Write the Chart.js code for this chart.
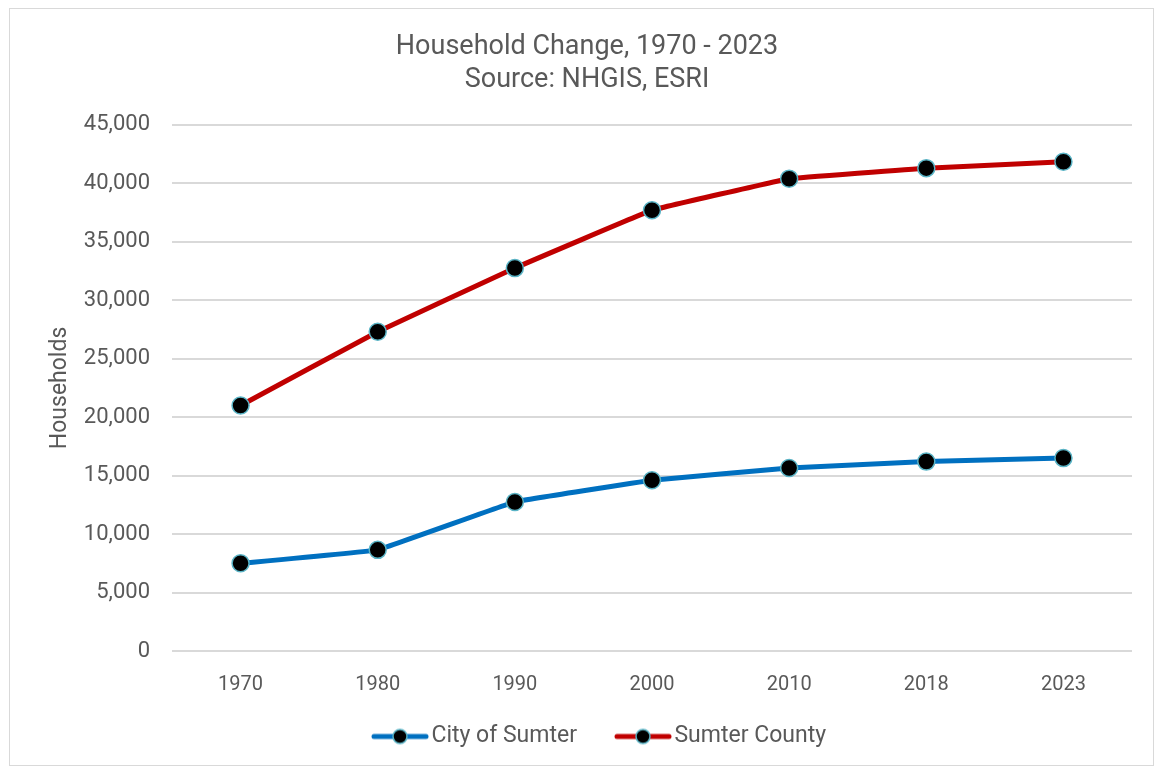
<!DOCTYPE html>
<html>
<head>
<meta charset="utf-8">
<script src="https://cdn.jsdelivr.net/npm/chart.js"></script>
<style>
  html, body { margin: 0; padding: 0; background: #fff; }
  #wrap { width: 1162px; height: 769px; }
</style>
</head>
<body>
<div id="wrap"><canvas id="chart" width="1162" height="769"></canvas></div>
<script>
// chart data
const years = ['1970', '1980', '1990', '2000', '2010', '2018', '2023'];
const citySumter = [7500, 8650, 12750, 14600, 15650, 16200, 16500];
const sumterCounty = [21000, 27300, 32750, 37700, 40400, 41300, 41850];
const yTicks = [0, 5000, 10000, 15000, 20000, 25000, 30000, 35000, 40000, 45000];

const textColor = '#595959';
const fontFamily = 'Roboto, "DejaVu Sans Condensed", sans-serif';

// legend icon: line with a marker, drawn at the right end of a wider canvas
// (the empty left part gives the gap between legend items)
function legendIcon(color) {
  const c = document.createElement('canvas');
  c.width = 90; c.height = 20;
  const ctx = c.getContext('2d');
  const x0 = 32;
  ctx.strokeStyle = color;
  ctx.lineWidth = 5;
  ctx.lineCap = 'round';
  ctx.beginPath();
  ctx.moveTo(x0 + 3, 10);
  ctx.lineTo(x0 + 55, 10);
  ctx.stroke();
  ctx.beginPath();
  ctx.arc(x0 + 29, 10, 7, 0, Math.PI * 2);
  ctx.fillStyle = '#000';
  ctx.fill();
  ctx.lineWidth = 1.5;
  ctx.strokeStyle = '#5ab4c6';
  ctx.stroke();
  return c;
}

// outer frame around the figure
const framePlugin = {
  id: 'frame',
  afterDraw(chart) {
    const ctx = chart.ctx;
    ctx.save();
    ctx.strokeStyle = '#d9d9d9';
    ctx.lineWidth = 1;
    ctx.strokeRect(9.5, 8.5, chart.width - 18, chart.height - 12);
    ctx.restore();
  }
};

const ctx = document.getElementById('chart').getContext('2d');
new Chart(ctx, {
  type: 'line',
  data: {
    labels: years,
    datasets: [
      {
        label: 'City of Sumter',
        data: citySumter,
        borderColor: '#0070c0',
        borderWidth: 5,
        pointRadius: 8.5,
        pointBackgroundColor: '#000',
        pointBorderColor: '#5ab4c6',
        pointBorderWidth: 1.5,
        pointStyle: 'circle',
        tension: 0.05,
        fill: false
      },
      {
        label: 'Sumter County',
        data: sumterCounty,
        borderColor: '#c00000',
        borderWidth: 5,
        pointRadius: 8.5,
        pointBackgroundColor: '#000',
        pointBorderColor: '#5ab4c6',
        pointBorderWidth: 1.5,
        pointStyle: 'circle',
        tension: 0.05,
        fill: false
      }
    ]
  },
  options: {
    responsive: false,
    animation: false,
    layout: { padding: { left: 42, right: 30, top: 14, bottom: 11 } },
    plugins: {
      title: {
        display: true,
        text: ['Household Change, 1970 - 2023', 'Source: NHGIS, ESRI'],
        color: textColor,
        font: { family: fontFamily, size: 27, weight: 'normal', lineHeight: 1.22 },
        padding: { top: 17, bottom: 28 }
      },
      legend: {
        position: 'bottom',
        labels: {
          color: textColor,
          font: { family: fontFamily, size: 23 },
          usePointStyle: true,
          pointStyleWidth: 72,
          padding: 14,
          generateLabels(chart) {
            return chart.data.datasets.map((ds, i) => ({
              text: ds.label,
              pointStyle: legendIcon(ds.borderColor),
              fontColor: textColor,
              datasetIndex: i,
              hidden: false,
              lineWidth: 0
            }));
          }
        }
      },
      tooltip: { enabled: false }
    },
    scales: {
      x: {
        offset: true,
        grid: { display: false },
        border: { display: false },
        ticks: {
          color: textColor,
          font: { family: fontFamily, size: 20 },
          padding: 14
        }
      },
      y: {
        min: 0,
        max: 45000,
        afterBuildTicks(axis) {
          axis.ticks = yTicks.map(v => ({ value: v }));
        },
        afterFit(axis) {
          axis.width = 130;
        },
        grid: { color: '#d9d9d9', lineWidth: 2, drawTicks: false },
        border: { display: false },
        title: {
          display: true,
          text: 'Households',
          color: textColor,
          font: { family: fontFamily, size: 23 },
          padding: { top: 4, bottom: 4 }
        },
        ticks: {
          color: textColor,
          font: { family: fontFamily, size: 22 },
          padding: 22,
          callback: v => v.toLocaleString('en-US')
        }
      }
    }
  },
  plugins: [framePlugin]
});
</script>
</body>
</html>
